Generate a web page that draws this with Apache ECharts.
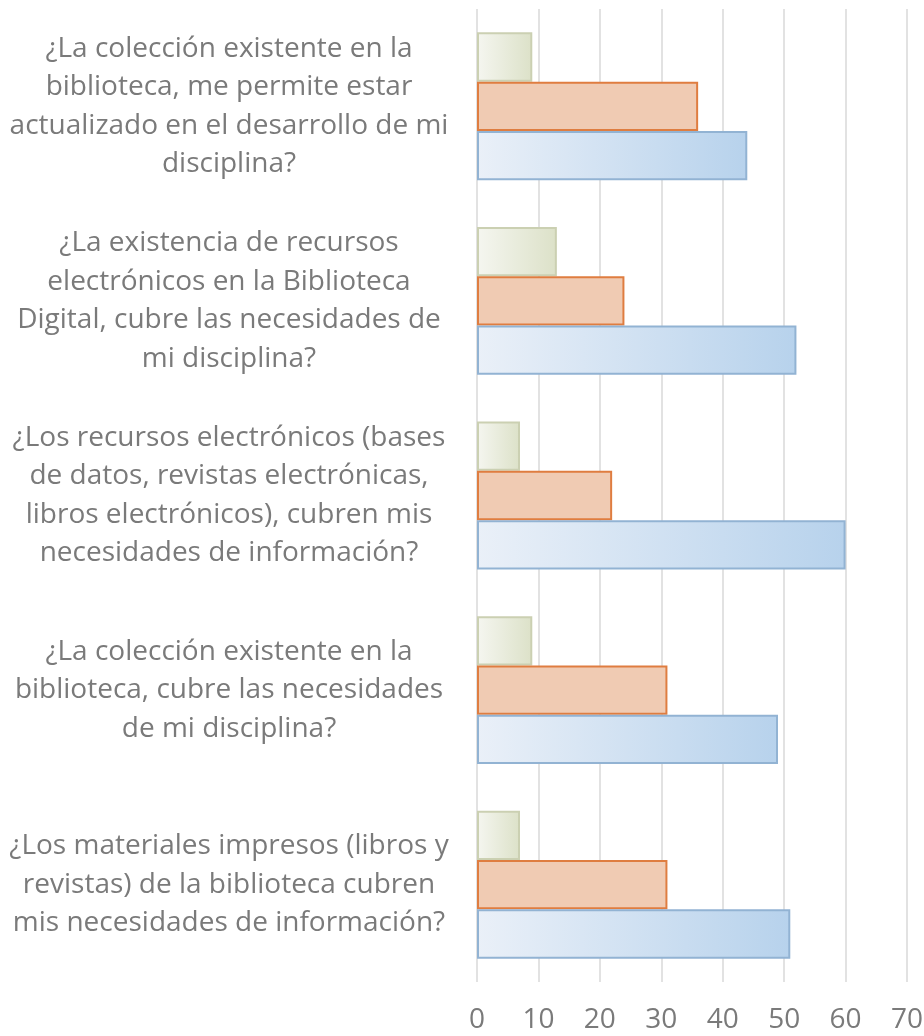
<!DOCTYPE html>
<html>
<head>
<meta charset="utf-8">
<script src="https://cdn.jsdelivr.net/npm/echarts@6/dist/echarts.min.js"></script>
<style>
  html, body { margin: 0; padding: 0; background: #fff; }
  #chart { width: 924px; height: 1036px; }
</style>
</head>
<body>
<div id="chart"></div>
<script>
const categories = [
  "¿La colección existente en la\nbiblioteca, me permite estar\nactualizado en el desarrollo de mi\ndisciplina?",
  "¿La existencia de recursos\nelectrónicos en la Biblioteca\nDigital, cubre las necesidades de\nmi disciplina?",
  "¿Los recursos electrónicos (bases\nde datos, revistas electrónicas,\nlibros electrónicos), cubren mis\nnecesidades de información?",
  "¿La colección existente en la\nbiblioteca, cubre las necesidades\nde mi disciplina?",
  "¿Los materiales impresos (libros y\nrevistas) de la biblioteca cubren\nmis necesidades de información?"
];
const greenValues = [9, 13, 7, 9, 7];
const orangeValues = [36, 24, 22, 31, 31];
const blueValues = [44, 52, 60, 49, 51];

const textColor = "#7a7a7a";
const fontFamily = "'Open Sans', Lato, sans-serif";

function grad(c1, c2) {
  return new echarts.graphic.LinearGradient(0, 0, 1, 0, [
    { offset: 0, color: c1 },
    { offset: 1, color: c2 }
  ]);
}

var myChart = echarts.init(document.getElementById("chart"));
myChart.setOption({
  animation: false,
  grid: {
    left: 477,
    right: 17,
    top: 9,
    bottom: 54,
    outerBoundsMode: "none"
  },
  xAxis: {
    type: "value",
    min: 0,
    max: 70,
    interval: 10,
    axisLine: { show: false },
    axisTick: { show: false },
    splitLine: { lineStyle: { color: "#d9d9d9", width: 1.5 } },
    axisLabel: {
      color: textColor,
      fontSize: 28,
      fontFamily: fontFamily,
      margin: 24
    }
  },
  yAxis: {
    type: "category",
    data: categories,
    inverse: true,
    axisLine: { show: false },
    axisTick: { show: false },
    axisLabel: {
      color: textColor,
      fontSize: 28,
      lineHeight: 38.5,
      fontFamily: fontFamily,
      align: "center",
      margin: 248
    }
  },
  series: [
    {
      name: "Green",
      type: "bar",
      data: greenValues,
      barGap: "0%",
      barCategoryGap: "24%",
      itemStyle: {
        color: grad("#f5f6f0", "#dce1c8"),
        borderColor: "#cbd0b2",
        borderWidth: 2
      }
    },
    {
      name: "Orange",
      type: "bar",
      data: orangeValues,
      barGap: "0%",
      barCategoryGap: "24%",
      itemStyle: {
        color: "#f0cbb3",
        borderColor: "#df7d40",
        borderWidth: 2
      }
    },
    {
      name: "Blue",
      type: "bar",
      data: blueValues,
      barGap: "0%",
      barCategoryGap: "24%",
      itemStyle: {
        color: grad("#eaf0f8", "#b7d2ec"),
        borderColor: "#92b3d3",
        borderWidth: 2
      }
    }
  ]
});
</script>
</body>
</html>
